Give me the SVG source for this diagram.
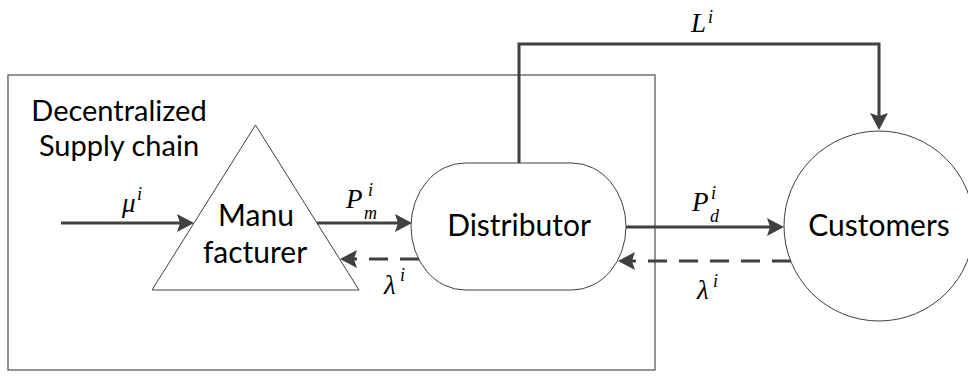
<svg xmlns="http://www.w3.org/2000/svg" width="968" height="376" viewBox="0 0 968 376">
  <style>
    .frame { fill: none; stroke: #595959; stroke-width: 1.3; }
    .node { fill: #ffffff; stroke: #404040; stroke-width: 1; }
    .flow { fill: none; stroke: #404040; stroke-width: 3; }
    .feedback { fill: none; stroke: #404040; stroke-width: 3; stroke-dasharray: 19 12; }
    .label { font-family: Lato, "Liberation Sans", sans-serif; font-size: 30px; fill: #000000; }
    .title { font-family: Lato, "Liberation Sans", sans-serif; font-size: 29px; fill: #000000; }
    .math { font-family: "Liberation Serif", "DejaVu Serif", serif; font-style: italic; font-size: 27px; fill: #000000; }
    .idx { font-family: "Liberation Serif", "DejaVu Serif", serif; font-style: italic; font-size: 18px; fill: #000000; }
  </style>
  <defs>
    <marker id="head" markerUnits="userSpaceOnUse" viewBox="0 -10 18 20" markerWidth="18" markerHeight="20" refX="3" refY="0" orient="auto">
      <path d="M0,-9 L17,0 L0,9 L3,0 Z" fill="#404040"/>
    </marker>
  </defs>

  <!-- boundary of the decentralized supply chain -->
  <g id="supply-chain-boundary">
    <rect class="frame" x="8" y="75" width="647" height="295"/>
    <text class="title" x="119" y="121" text-anchor="middle">Decentralized</text>
    <text class="title" x="119" y="156" text-anchor="middle">Supply chain</text>
  </g>

  <g id="manufacturer">
    <polygon class="node" points="255.5,125 152,290 359,290"/>
    <text class="label" x="256" y="226" text-anchor="middle">Manu</text>
    <text class="label" x="255" y="263" text-anchor="middle">facturer</text>
  </g>

  <g id="distributor">
    <path class="node" d="M465,163 H572 A54,63.5 0 0 1 572,290 H465 A54,63.5 0 0 1 465,163 Z"/>
    <text class="label" x="519" y="236" text-anchor="middle">Distributor</text>
  </g>

  <g id="customers">
    <circle class="node" cx="879" cy="226" r="95"/>
    <text class="label" x="879" y="236" text-anchor="middle">Customers</text>
  </g>

  <g id="connectors">
    <!-- material flows -->
    <path class="flow" d="M61,223 H180" marker-end="url(#head)"/>
    <path class="flow" d="M317,223 H398" marker-end="url(#head)"/>
    <path class="flow" d="M626,227 H770" marker-end="url(#head)"/>
    <path class="flow" d="M519,163 V44 H879 V116" marker-end="url(#head)"/>
    <!-- demand information flowing back -->
    <path class="feedback" d="M419,259 H354" marker-end="url(#head)"/>
    <path class="feedback" d="M791,261 H632" marker-end="url(#head)"/>

    <!-- flow labels -->
    <text class="math" x="122" y="212">μ</text>
    <text class="idx" x="137" y="200">i</text>

    <text class="math" x="346" y="208">P</text>
    <text class="idx" x="368" y="196">i</text>
    <text class="idx" x="364" y="219">m</text>

    <text class="math" x="384" y="294">λ</text>
    <text class="idx" x="400" y="281">i</text>

    <text class="math" x="692" y="211">P</text>
    <text class="idx" x="711" y="199">i</text>
    <text class="idx" x="710" y="222">d</text>

    <text class="math" x="697" y="299">λ</text>
    <text class="idx" x="713" y="287">i</text>

    <text class="math" x="691" y="32">L</text>
    <text class="idx" x="708" y="23">i</text>
  </g>
</svg>
